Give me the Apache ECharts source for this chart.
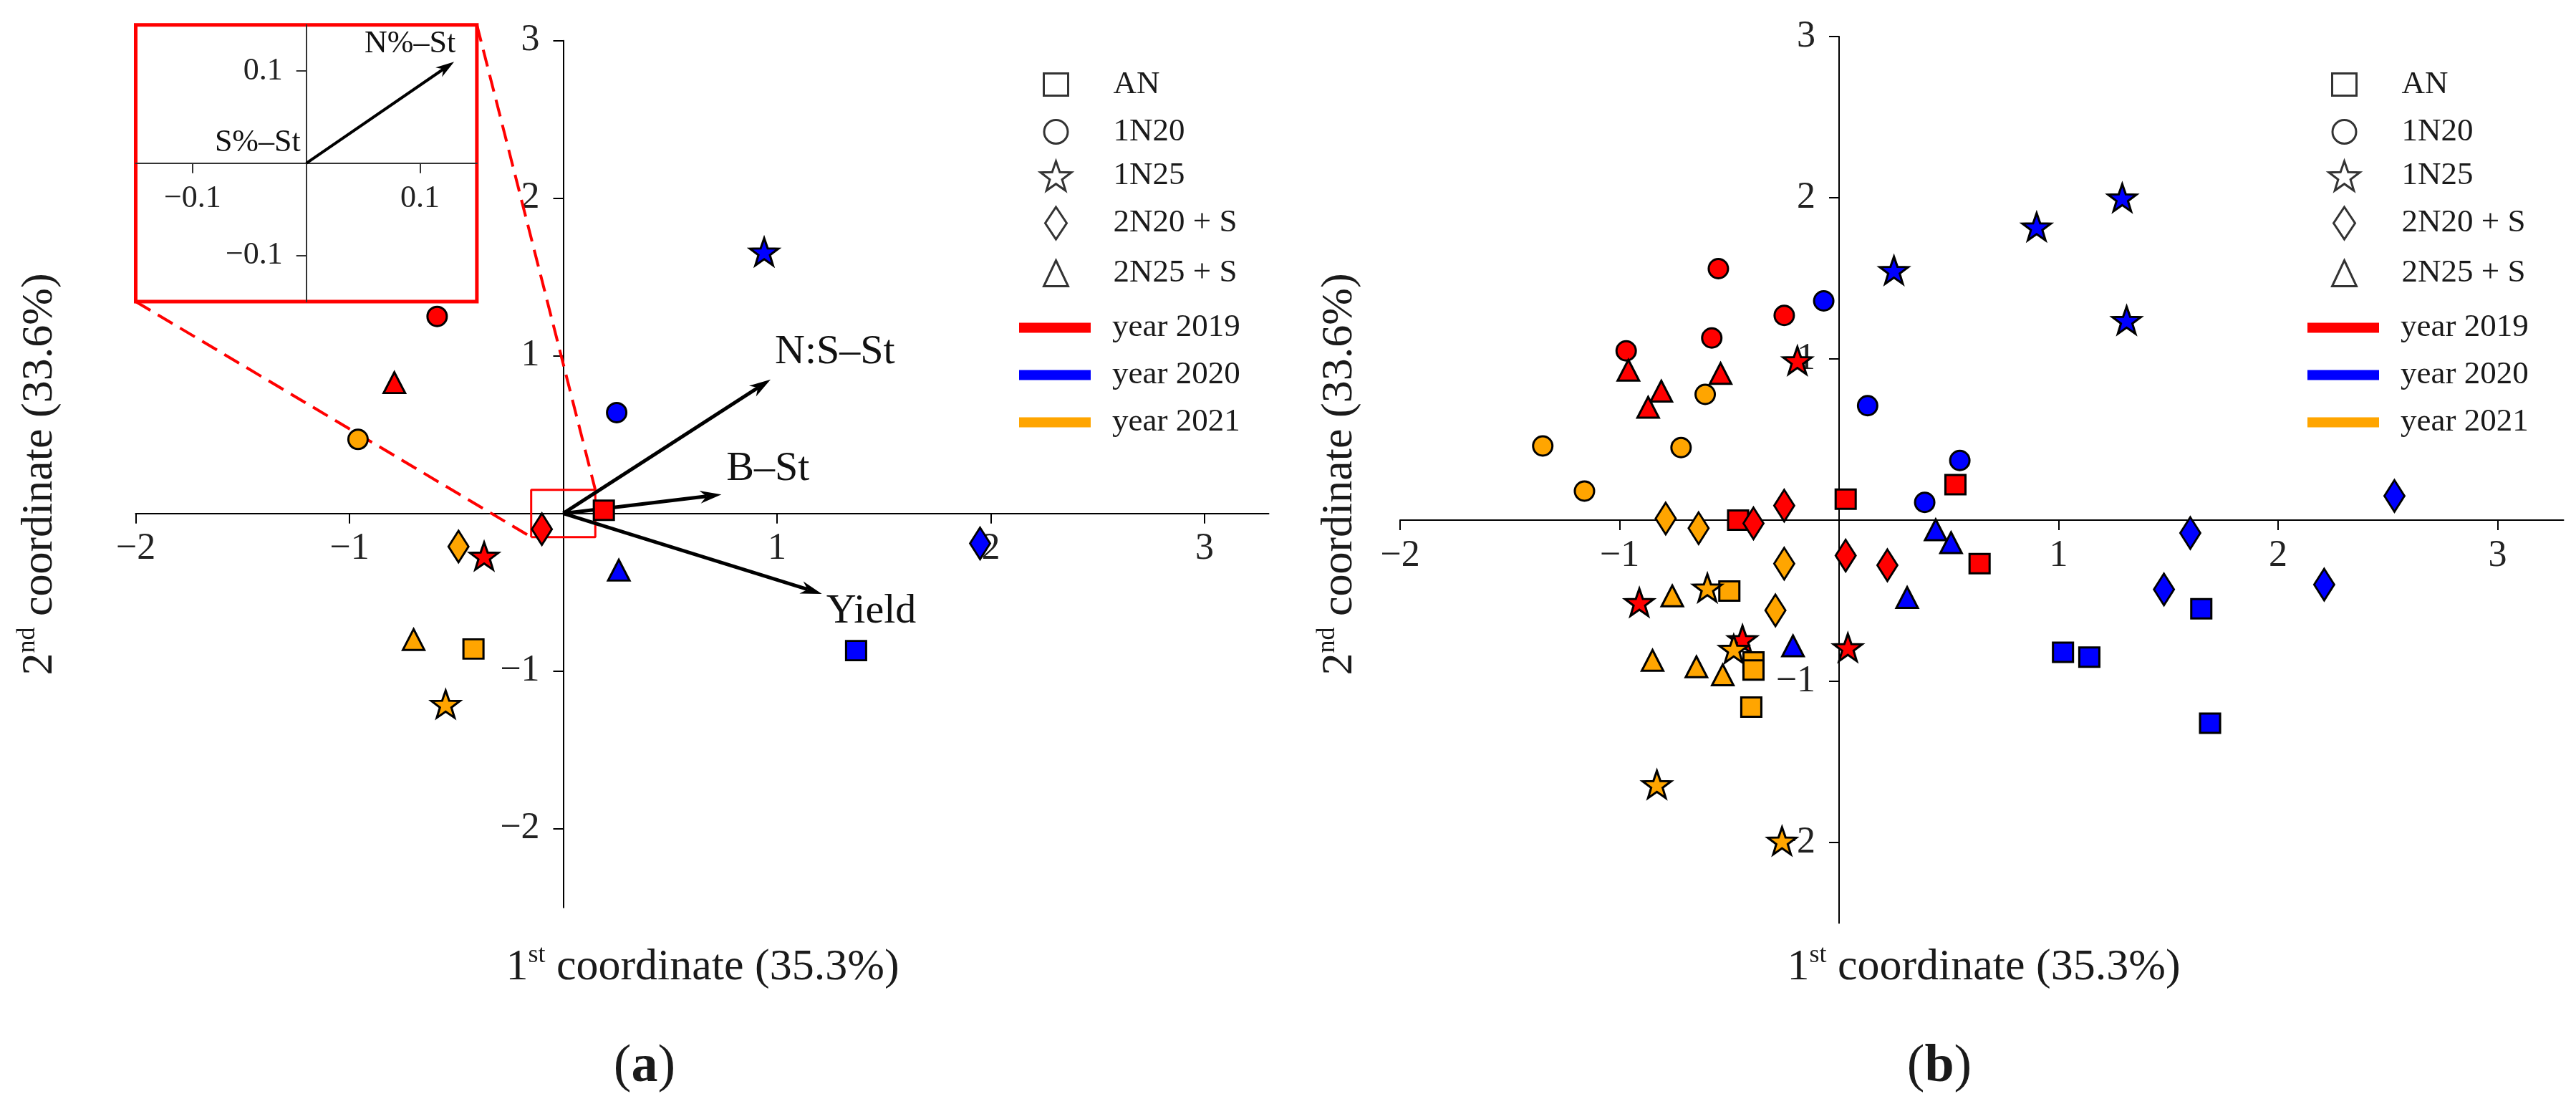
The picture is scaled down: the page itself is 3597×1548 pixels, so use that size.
<!DOCTYPE html>
<html lang="en">
<head>
<meta charset="UTF-8">
<title>PCA biplot</title>
<script src="https://cdn.jsdelivr.net/npm/echarts@6.0.0/dist/echarts.min.js"></script>
<style>
    html, body { margin: 0; padding: 0; background: #fff; }
    #main { width: 3597px; height: 1548px; }
</style>
</head>
<body>
<div id="main"></div>
<script type="text/javascript">
    // ---- data ----
    var treatments = ['AN', '1N20', '1N25', '2N20 + S', '2N25 + S'];
    var years = ['year 2019', 'year 2020', 'year 2021'];

    // (a) treatment means, order as treatments
    var mean2019 = [[0.19, 0.02], [-0.59, 1.25], [-0.37, -0.27], [-0.10, -0.10], [-0.79, 0.83]];
    var mean2020 = [[1.37, -0.87], [0.25, 0.64], [0.94, 1.66], [1.95, -0.19], [0.26, -0.36]];
    var mean2021 = [[-0.42, -0.86], [-0.96, 0.47], [-0.55, -1.21], [-0.49, -0.21], [-0.70, -0.80]];

    // (b) replicates, four per treatment
    var rep2019 = [
        [[0.03, 0.13], [-0.46, 0.00], [0.53, 0.22], [0.64, -0.27]],
        [[-0.55, 1.56], [-0.25, 1.27], [-0.58, 1.13], [-0.97, 1.05]],
        [[-0.19, 0.99], [-0.91, -0.51], [-0.44, -0.74], [0.04, -0.79]],
        [[-0.25, 0.09], [-0.39, -0.02], [0.03, -0.22], [0.22, -0.28]],
        [[-0.96, 0.93], [-0.54, 0.91], [-0.81, 0.80], [-0.87, 0.70]]
    ];
    var rep2020 = [
        [[1.02, -0.82], [1.14, -0.85], [1.65, -0.55], [1.69, -1.26]],
        [[-0.07, 1.36], [0.13, 0.71], [0.55, 0.37], [0.39, 0.11]],
        [[1.29, 2.00], [0.90, 1.82], [0.25, 1.55], [1.31, 1.24]],
        [[2.53, 0.15], [1.60, -0.08], [1.48, -0.43], [2.21, -0.40]],
        [[0.44, -0.06], [0.51, -0.14], [0.31, -0.48], [-0.21, -0.78]]
    ];
    var rep2021 = [
        [[-0.50, -0.44], [-0.39, -0.88], [-0.39, -0.93], [-0.40, -1.16]],
        [[-0.61, 0.78], [-1.35, 0.46], [-0.72, 0.45], [-1.16, 0.18]],
        [[-0.60, -0.42], [-0.48, -0.80], [-0.83, -1.64], [-0.26, -1.99]],
        [[-0.79, 0.01], [-0.64, -0.05], [-0.25, -0.27], [-0.29, -0.56]],
        [[-0.76, -0.47], [-0.85, -0.87], [-0.65, -0.91], [-0.53, -0.96]]
    ];

    // loading vectors
    var loadNames = ['N:S–St', 'B–St', 'Yield'];
    var loadX = [0.97, 0.74, 1.21];
    var loadY = [0.85, 0.12, -0.51];
    var insetNames = ['N%–St', 'S%–St'];
    var insetX = [0.13, 0];
    var insetY = [0.11, 0];

    var mainTicks = [-2, -1, 1, 2, 3];
    var insetTicks = [-0.1, 0.1];

    // ---- styling / layout ----
    var FONT = 'Liberation Serif';
    var yearColors = ['#ff0000', '#0000ff', '#ffa500'];
    var symbols = ['rect', 'circle', starPath(0.40), 'diamond', 'triangle'];
    var markerSizes = [[28, 27], [27, 27], [40, 38], [28, 44], [30, 29]];
    var legendIconSizes = [[34, 31], [33, 33], [43, 42], [30, 45], [34, 36]];
    var shapeRows = [111, 178, 244, 310, 377];
    var yearRows = [442, 508, 574];
    var legendCx = [1473, 3272];

    var xRange = [-2, 3.3], yRange = [-2.5, 3];
    var gridA = { left: 189.5, top: 56.7, width: 1582, height: 1210 };
    var gridB = { left: 1955, top: 51, width: 1624.5, height: 1237.5 };
    var zoomHalf = 0.15;
    var insetLo = [-2, 1.344], insetHi = [-0.404, 3.10];   // inset frame in panel (a) units

    var loadLabelOff = [[6, -38, 'left'], [7, -36, 'left'], [6, 25, 'left']];
    var insetLabelOff = [[2, -25, 'right'], [-8, -28, 'right']];

    function starPath(inner) {
        var pts = [];
        for (var i = 0; i < 10; i++) {
            var r = i % 2 === 0 ? 50 : 50 * inner;
            var a = -Math.PI / 2 + i * Math.PI / 5;
            pts.push((r * Math.cos(a)).toFixed(2) + ',' + (r * Math.sin(a)).toFixed(2));
        }
        return 'path://M' + pts.join('L') + 'Z';
    }

    function toPxA(x, y) {
        return [gridA.left + (x - xRange[0]) / (xRange[1] - xRange[0]) * gridA.width,
                gridA.top + (yRange[1] - y) / (yRange[1] - yRange[0]) * gridA.height];
    }

    function fmt(v) { return (v < 0 ? '−' : '') + Math.abs(v); }
    function fmt1(v) { return (v < 0 ? '−' : '') + Math.abs(v).toFixed(1); }

    // axis drawn through the zero of the other axis (via offset, so labels follow)
    function valueAxis(gi, range, ticks, formatter, fs, margin, pos, zeroShift, lineColor, lw) {
        return {
            type: 'value', gridIndex: gi, min: range[0], max: range[1],
            position: pos, offset: -zeroShift,
            axisLine: { onZero: false, lineStyle: { color: lineColor, width: lw } },
            axisTick: { customValues: ticks, length: 14, lineStyle: { color: lineColor, width: lw } },
            axisLabel: { customValues: ticks, formatter: formatter, fontSize: fs, fontFamily: FONT,
                         color: '#222', margin: margin },
            splitLine: { show: false }
        };
    }
    function zeroShift(range, size) { return (0 - range[0]) / (range[1] - range[0]) * size; }

    function arrowRender(names, offsets, lw, headLen, headW, fs) {
        return function (params, api) {
            var i = params.dataIndex;
            var p0 = api.coord([0, 0]);
            var p1 = api.coord([api.value(0), api.value(1)]);
            var dx = p1[0] - p0[0], dy = p1[1] - p0[1];
            var len = Math.sqrt(dx * dx + dy * dy);
            var kids = [];
            if (len > 1) {
                var ux = dx / len, uy = dy / len, nx = -uy, ny = ux;
                var bx = p1[0] - ux * headLen, by = p1[1] - uy * headLen;
                var mx = p1[0] - ux * headLen * 0.7, my = p1[1] - uy * headLen * 0.7;
                kids.push({ type: 'line', shape: { x1: p0[0], y1: p0[1], x2: mx, y2: my },
                            style: { stroke: '#000', lineWidth: lw } });
                kids.push({ type: 'polygon', shape: { points: [[p1[0], p1[1]],
                            [bx + nx * headW / 2, by + ny * headW / 2], [mx, my],
                            [bx - nx * headW / 2, by - ny * headW / 2]] },
                            style: { fill: '#000' } });
            }
            var o = offsets[i];
            kids.push({ type: 'text', x: p1[0] + o[0], y: p1[1] + o[1],
                        style: { text: names[i], fill: '#111', fontSize: fs, fontFamily: FONT,
                                 align: o[2], verticalAlign: 'middle' } });
            return { type: 'group', children: kids };
        };
    }

    var myChart = echarts.init(document.getElementById('main'));

    var insetA = toPxA(insetLo[0], insetHi[1]);
    var insetB = toPxA(insetHi[0], insetLo[1]);
    var inset = { left: insetA[0], top: insetA[1], width: insetB[0] - insetA[0], height: insetB[1] - insetA[1] };
    var zRange = [-zoomHalf, zoomHalf];

    var grids = [
        { left: gridA.left, top: gridA.top, width: gridA.width, height: gridA.height, outerBoundsMode: 'none' },
        { left: inset.left, top: inset.top, width: inset.width, height: inset.height,
          show: true, borderColor: '#ff0000', borderWidth: 5, backgroundColor: '#fff', outerBoundsMode: 'none' },
        { left: gridB.left, top: gridB.top, width: gridB.width, height: gridB.height, outerBoundsMode: 'none' }
    ];

    var xAxes = [
        valueAxis(0, xRange, mainTicks, fmt, 52, 24, 'bottom', zeroShift(yRange, gridA.height), '#000', 2),
        valueAxis(1, zRange, insetTicks, fmt1, 44, 28, 'bottom', zeroShift(zRange, inset.height), '#333', 2),
        valueAxis(2, xRange, mainTicks, fmt, 52, 24, 'bottom', zeroShift(yRange, gridB.height), '#000', 2)
    ];
    var yAxes = [
        valueAxis(0, yRange, mainTicks, fmt, 52, 33, 'left', zeroShift(xRange, gridA.width), '#000', 2),
        valueAxis(1, zRange, insetTicks, fmt1, 44, 33, 'left', zeroShift(zRange, inset.width), '#333', 2),
        valueAxis(2, yRange, mainTicks, fmt, 52, 33, 'left', zeroShift(xRange, gridB.width), '#000', 2)
    ];

    var series = [];
    var means = [mean2019, mean2020, mean2021];
    var reps = [rep2019, rep2020, rep2021];

    // arrows first so markers sit on top
    series.push({
        type: 'custom', name: 'loadings', xAxisIndex: 0, yAxisIndex: 0, clip: false, z: 3,
        renderItem: arrowRender(loadNames, loadLabelOff, 5, 30, 18, 58),
        data: loadX.map(function (v, i) { return [v, loadY[i]]; })
    });
    series.push({
        type: 'custom', name: 'inset loadings', xAxisIndex: 1, yAxisIndex: 1, clip: false, z: 3,
        renderItem: arrowRender(insetNames, insetLabelOff, 4, 26, 16, 44),
        data: insetX.map(function (v, i) { return [v, insetY[i]]; })
    });

    // zoom box and connectors in panel (a)
    series.push({
        type: 'line', name: 'zoom box', xAxisIndex: 0, yAxisIndex: 0, symbol: 'none', z: 2,
        lineStyle: { color: '#ff0000', width: 3 },
        data: [[-zoomHalf, -zoomHalf], [zoomHalf, -zoomHalf], [zoomHalf, zoomHalf],
               [-zoomHalf, zoomHalf], [-zoomHalf, -zoomHalf]]
    });
    series.push({
        type: 'line', name: 'link1', xAxisIndex: 0, yAxisIndex: 0, symbol: 'none', clip: false, z: 2,
        lineStyle: { color: '#ff0000', width: 4, type: [24, 12] },
        data: [insetLo, [-zoomHalf, -zoomHalf]]
    });
    series.push({
        type: 'line', name: 'link2', xAxisIndex: 0, yAxisIndex: 0, symbol: 'none', clip: false, z: 2,
        lineStyle: { color: '#ff0000', width: 4, type: [24, 12] },
        data: [insetHi, [zoomHalf, zoomHalf]]
    });

    for (var y = 0; y < years.length; y++) {
        for (var t = 0; t < treatments.length; t++) {
            var st = { color: yearColors[y], borderColor: '#000', borderWidth: 3, opacity: 1 };
            series.push({
                type: 'scatter', name: 'a ' + treatments[t] + ' ' + years[y],
                xAxisIndex: 0, yAxisIndex: 0, z: 5,
                symbol: symbols[t], symbolSize: markerSizes[t], itemStyle: st,
                data: [means[y][t]]
            });
            series.push({
                type: 'scatter', name: 'b ' + treatments[t] + ' ' + years[y],
                xAxisIndex: 2, yAxisIndex: 2, z: 5,
                symbol: symbols[t], symbolSize: markerSizes[t], itemStyle: st,
                data: reps[y][t]
            });
        }
    }

    // legend-only series
    treatments.forEach(function (name, t) {
        series.push({ type: 'scatter', name: name, xAxisIndex: 0, yAxisIndex: 0, data: [],
                      symbol: symbols[t], itemStyle: { color: '#fff', borderColor: '#000', borderWidth: 3 } });
    });
    years.forEach(function (name, y) {
        series.push({ type: 'line', name: name, xAxisIndex: 0, yAxisIndex: 0, data: [],
                      itemStyle: { color: yearColors[y] }, lineStyle: { color: yearColors[y] } });
    });

    // one legend per entry; text starts 80px right of the icon centre
    function legendEntry(cx, cy, w, h, item) {
        return {
            left: cx - w / 2, top: cy - h / 2, padding: 0,
            itemWidth: w, itemHeight: h, selectedMode: false,
            formatter: function (name) { return '{s| }' + name; },
            textStyle: { fontSize: 45, fontFamily: FONT, color: '#1a1a1a', lineHeight: h,
                         rich: { s: { width: 75 - w / 2, fontSize: 45 } } },
            data: [item]
        };
    }
    var legends = [];
    legendCx.forEach(function (cx) {
        treatments.forEach(function (name, t) {
            var w = legendIconSizes[t][0], h = legendIconSizes[t][1];
            legends.push(legendEntry(cx, shapeRows[t], w, h, {
                name: name, icon: symbols[t],
                itemStyle: { color: '#fff', borderColor: '#000', borderWidth: 3 }
            }));
        });
        years.forEach(function (name, y) {
            legends.push(legendEntry(cx, yearRows[y], 100, 14, {
                name: name, icon: 'rect', itemStyle: { color: yearColors[y], borderWidth: 0 }
            }));
        });
    });

    var titleStyle = {
        fontSize: 62, fontFamily: FONT, fill: '#1a1a1a', align: 'center', verticalAlign: 'middle',
        lineHeight: 70, rich: { sup: { fontSize: 36, lineHeight: 44, verticalAlign: 'top', fontFamily: FONT } }
    };
    function textEl(x, y, text, rot, extra) {
        var s = Object.assign({}, titleStyle, { text: text }, extra || {});
        return { type: 'text', x: x, y: y, rotation: rot || 0, style: s, z: 10 };
    }
    var panelStyle = { fontSize: 74, lineHeight: 80,
                       rich: { b: { fontSize: 74, fontWeight: 'bold', fontFamily: FONT } } };

    var option = {
        animation: false,
        backgroundColor: '#fff',
        textStyle: { fontFamily: FONT },
        grid: grids,
        xAxis: xAxes,
        yAxis: yAxes,
        legend: legends,
        graphic: [
            textEl(981, 1351, '1{sup|st} coordinate (35.3%)'),
            textEl(2770, 1351, '1{sup|st} coordinate (35.3%)'),
            textEl(56, 662, '2{sup|nd} coordinate (33.6%)', Math.PI / 2),
            textEl(1871, 662, '2{sup|nd} coordinate (33.6%)', Math.PI / 2),
            textEl(900, 1490, '({b|a})', 0, panelStyle),
            textEl(2708, 1490, '({b|b})', 0, panelStyle)
        ],
        series: series
    };
    myChart.setOption(option);
    window.onresize = myChart.resize;
</script>
</body>
</html>
